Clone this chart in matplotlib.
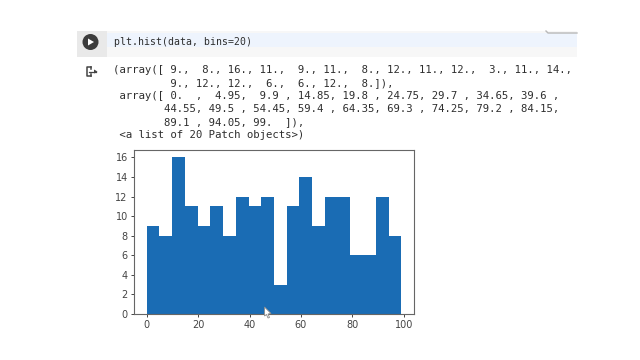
import matplotlib
matplotlib.use("Agg")
import matplotlib.pyplot as plt
from matplotlib.patches import Circle, Polygon, Rectangle

counts = [9, 8, 16, 11, 9, 11, 8, 12, 11, 12, 3, 11, 14, 9, 12, 12, 6, 6, 12, 8]
edges = [0, 4.95, 9.9, 14.85, 19.8, 24.75, 29.7, 34.65, 39.6, 44.55, 49.5,
         54.45, 59.4, 64.35, 69.3, 74.25, 79.2, 84.15, 89.1, 94.05, 99]
x_ticks = [0, 20, 40, 60, 80, 100]
y_ticks = [0, 2, 4, 6, 8, 10, 12, 14, 16]

code_line = "plt.hist(data, bins=20)"
output_lines = [
    "(array([ 9.,  8., 16., 11.,  9., 11.,  8., 12., 11., 12.,  3., 11., 14.,",
    "         9., 12., 12.,  6.,  6., 12.,  8.]),",
    " array([ 0.  ,  4.95,  9.9 , 14.85, 19.8 , 24.75, 29.7 , 34.65, 39.6 ,",
    "        44.55, 49.5 , 54.45, 59.4 , 64.35, 69.3 , 74.25, 79.2 , 84.15,",
    "        89.1 , 94.05, 99.  ]),",
    " <a list of 20 Patch objects>)",
]

W, H = 640, 360
TEXT = "#2e2e2e"
BAR = "#1a6cb4"
EDGE = "#666666"

fig = plt.figure(figsize=(W / 100, H / 100), dpi=100)

# page layer in pixel coords, y going down like the screenshot
page = fig.add_axes([0, 0, 1, 1])
page.set_xlim(0, W)
page.set_ylim(H, 0)
page.axis("off")

# notebook cell
page.add_patch(Rectangle((77, 31), 500, 26, color="#f7f7f7", lw=0))
page.add_patch(Rectangle((107, 33), 470, 14, color="#eef4fd", lw=0))
page.add_patch(Rectangle((77, 31), 30, 26, color="#e9e9e9", lw=0))
page.plot([546, 548, 577], [31, 33, 33], color="#b8b8b8", lw=1)
page.add_patch(Circle((90.5, 42), 8, color="#3c3c3c", lw=0))
page.add_patch(Polygon([(88, 38.5), (88, 45.5), (94, 42)], color="white", lw=0))

# output icon
page.plot([91, 86.5, 86.5, 91], [67, 67, 76, 76], color="#444444", lw=1.1)
page.plot([91, 91], [67, 69], color="#444444", lw=1.1)
page.plot([91, 91], [74, 76], color="#444444", lw=1.1)
page.plot([89, 96], [71.5, 71.5], color="#444444", lw=0.9)
page.add_patch(Polygon([(94, 69.5), (94, 73.5), (97.5, 71.5)], color="#444444", lw=0))

page.text(114, 42, code_line, family="DejaVu Sans Mono", fontsize=7.15,
          color=TEXT, va="center", ha="left")
for i, line in enumerate(output_lines):
    page.text(113, 70 + i * 13.0, line, family="DejaVu Sans Mono", fontsize=7.65,
              color=TEXT, va="center", ha="left")

# histogram, axes box
ax = fig.add_axes([134 / W, 1 - 314 / H, 280 / W, 164.5 / H])
ax.hist(edges[:-1], bins=edges, weights=counts, color=BAR)
ax.set_xticks(x_ticks)
ax.set_yticks(y_ticks)
ax.tick_params(labelsize=7, length=2.5, width=0.7, pad=2, colors="#444444")
for spine in ax.spines.values():
    spine.set_color(EDGE)
    spine.set_linewidth(0.8)

# mouse pointer on top of the chart
top = fig.add_axes([0, 0, 1, 1])
top.set_xlim(0, W)
top.set_ylim(H, 0)
top.axis("off")
top.patch.set_alpha(0)
top.add_patch(Polygon([(264.5, 307), (264.5, 316), (266.5, 314.5), (268, 318),
                       (269.5, 317.5), (268, 314), (271, 313.5)],
                      facecolor="white", edgecolor="#8a8a8a", lw=0.6))

fig.savefig("out.png", dpi=100)
